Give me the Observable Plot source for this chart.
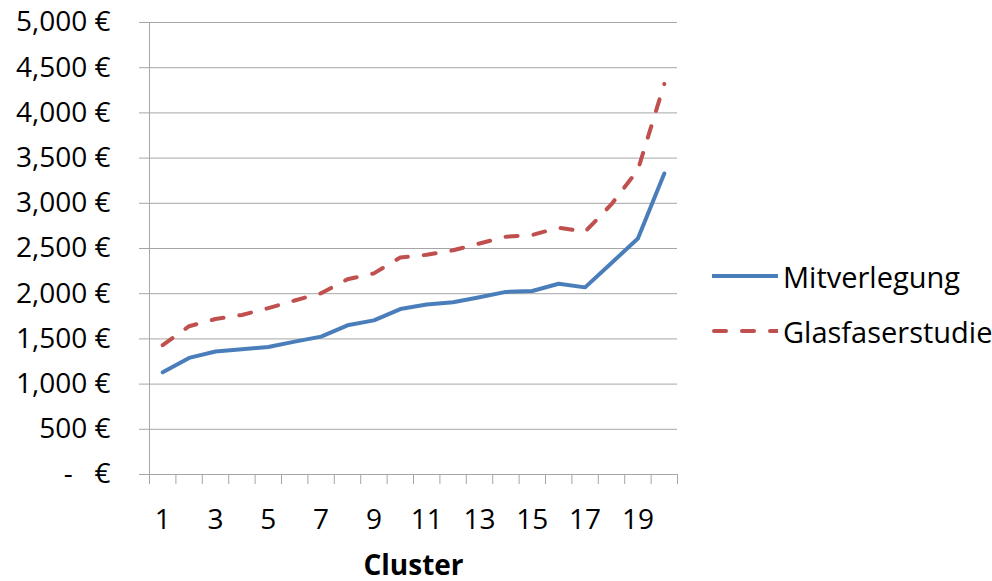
<!DOCTYPE html>
<html><head><meta charset="utf-8">
<script src="https://cdn.jsdelivr.net/npm/d3@7"></script>
<script src="https://cdn.jsdelivr.net/npm/@observablehq/plot@0.6"></script>
<style>
body{margin:0;background:#fff;font-family:"Open Sans",sans-serif;}
#wrap{position:relative;width:992px;height:581px;overflow:hidden;}
#legend{position:absolute;left:712px;top:0;font-size:29px;color:#000;}
.item{position:absolute;left:0;display:flex;align-items:center;white-space:nowrap;height:40px;}
.item svg{margin-right:5px;}
g[aria-label="x-axis label"] text{font-weight:bold;}
</style></head>
<body><div id="wrap"><div id="chart"></div><div id="legend"></div></div>
<script>
const clusters = [1,2,3,4,5,6,7,8,9,10,11,12,13,14,15,16,17,18,19,20];
const mitverlegung = [1130,1290,1360,1385,1410,1470,1525,1650,1705,1830,1880,1905,1960,2020,2030,2110,2070,2340,2610,3330];
const glasfaserstudie = [1430,1640,1720,1765,1840,1925,2005,2160,2225,2400,2430,2480,2555,2630,2650,2730,2685,2990,3370,4320];
const seriesNames = ["Mitverlegung","Glasfaserstudie"];
const seriesColors = ["#4a7ebb","#c0504d"];
const yTicks = [0,500,1000,1500,2000,2500,3000,3500,4000,4500,5000];
const xLabelTicks = [1,3,5,7,9,11,13,15,17,19];
const xBoundaryTicks = [0.5,1.5,2.5,3.5,4.5,5.5,6.5,7.5,8.5,9.5,10.5,11.5,12.5,13.5,14.5,15.5,16.5,17.5,18.5,19.5,20.5];

const rowsA = clusters.map((c,i)=>({cluster:c, value:mitverlegung[i]}));
const rowsB = clusters.map((c,i)=>({cluster:c, value:glasfaserstudie[i]}));
const grey = "#a6a6a6";
const fmtY = d => d === 0 ? "-\u00a0\u00a0\u00a0€" : d3.format(",")(d) + "\u00a0€";

const chart = Plot.plot({
  width: 992, height: 581,
  marginLeft: 149, marginRight: 315, marginTop: 22, marginBottom: 107,
  style: {fontFamily: "'Open Sans', sans-serif", fontSize: "28px", color: "#000", background: "#fff"},
  x: {domain: [0.5, 20.5]},
  y: {domain: [0, 5000]},
  marks: [
    Plot.gridY(yTicks, {stroke: grey, strokeOpacity: 1, strokeWidth: 1}),
    Plot.ruleX([0.5], {y1: 0, y2: 5000, stroke: grey}),
    Plot.ruleY([0], {stroke: grey}),
    Plot.axisY(yTicks, {tickSize: 10, tickPadding: 29, tickFormat: fmtY, stroke: grey, fill: "#000", label: null}),
    Plot.axisX(xBoundaryTicks, {tickSize: 10, tickFormat: () => "", stroke: grey, label: null}),
    Plot.axisX(xLabelTicks, {tickSize: 0, tickPadding: 35, tickFormat: d => String(d), fill: "#000", label: "Cluster", labelAnchor: "center", labelArrow: "none", labelOffset: 100}),
    Plot.line(rowsA, {x: "cluster", y: "value", stroke: seriesColors[0], strokeWidth: 4, strokeLinejoin: "round"}),
    Plot.line(rowsB, {x: "cluster", y: "value", stroke: seriesColors[1], strokeWidth: 4, strokeDasharray: "12,16", strokeLinecap: "round", strokeLinejoin: "round"})
  ]
});
document.getElementById("chart").appendChild(chart);

const legend = document.getElementById("legend");
const legendY = [276, 331];
seriesNames.forEach((name, i) => {
  const item = document.createElement("div");
  item.className = "item";
  item.style.top = (legendY[i] - 20) + "px";
  const dash = i === 1 ? ' stroke-dasharray="12,16" stroke-linecap="round"' : '';
  item.innerHTML = `<svg width="66" height="10"><line x1="${i===1?2:0}" y1="5" x2="66" y2="5" stroke="${seriesColors[i]}" stroke-width="4"${dash}/></svg><span>${name}</span>`;
  legend.appendChild(item);
});
</script>
</body></html>
